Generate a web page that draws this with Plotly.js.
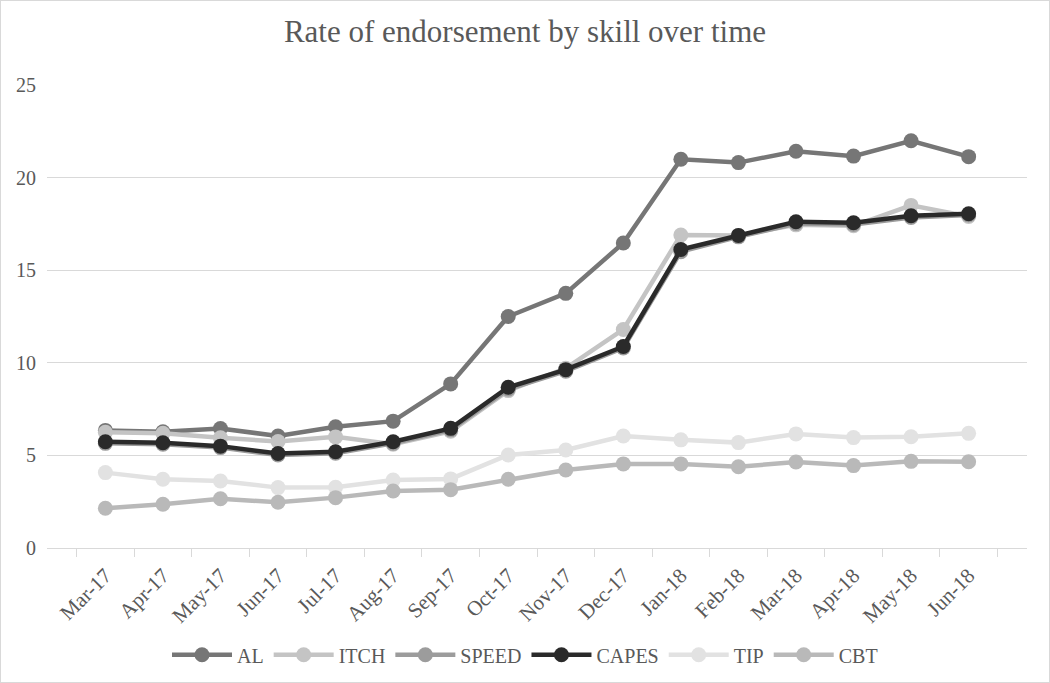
<!DOCTYPE html>
<html>
<head>
<meta charset="utf-8">
<script src="https://cdn.plot.ly/plotly-3.0.1.min.js"></script>
<style>
  body { margin: 0; background: #fff; }
  #plot { width: 1048px; height: 681px; border: 1px solid #d9d9d9; }
</style>
</head>
<body>
<div id="plot"></div>
<script>
/* Months on the x axis */
var months = ["Mar-17", "Apr-17", "May-17", "Jun-17", "Jul-17", "Aug-17", "Sep-17", "Oct-17",
              "Nov-17", "Dec-17", "Jan-18", "Feb-18", "Mar-18", "Apr-18", "May-18", "Jun-18"];

/* Endorsement rate per skill */
var alValues    = [6.35, 6.28, 6.45, 6.05, 6.55, 6.85, 8.86, 12.5, 13.75, 16.47, 20.99, 20.81, 21.42, 21.16, 21.99, 21.13];
var itchValues  = [6.25, 6.19, 5.95, 5.75, 6.0, 5.6, 6.3, 8.5, 9.7, 11.8, 16.9, 16.88, 17.45, 17.4, 18.5, 17.9];
var speedValues = [5.65, 5.6, 5.42, 5.02, 5.12, 5.65, 6.38, 8.58, 9.55, 10.8, 16.0, 16.8, 17.52, 17.47, 17.85, 17.98];
var capesValues = [5.74, 5.68, 5.5, 5.1, 5.2, 5.74, 6.46, 8.68, 9.63, 10.88, 16.12, 16.88, 17.62, 17.56, 17.94, 18.05];
var tipValues   = [4.07, 3.71, 3.62, 3.26, 3.28, 3.67, 3.73, 5.02, 5.29, 6.05, 5.84, 5.69, 6.16, 5.96, 6.01, 6.19];
var cbtValues   = [2.15, 2.36, 2.66, 2.47, 2.72, 3.08, 3.15, 3.71, 4.21, 4.54, 4.54, 4.39, 4.64, 4.45, 4.68, 4.66];

var names  = ["AL", "ITCH", "SPEED", "CAPES", "TIP", "CBT"];
var colors = ["#767676", "#c4c4c4", "#9c9c9c", "#2a2a2a", "#e2e2e2", "#b9b9b9"];
var series = [alValues, itchValues, speedValues, capesValues, tipValues, cbtValues];

var data = [];
for (var i = 0; i < names.length; i++) {
  data.push({
    x: months,
    y: series[i],
    name: names[i],
    type: "scatter",
    mode: "lines+markers",
    line: { color: colors[i], width: 4.5 },
    marker: { color: colors[i], size: 15 }
  });
}

var serif = "Liberation Serif, Times New Roman, serif";
var textColor = "#595959";

var layout = {
  width: 1048,
  height: 681,
  margin: { l: 46, r: 22, t: 84, b: 134 },
  paper_bgcolor: "#ffffff",
  plot_bgcolor: "#ffffff",
  font: { family: serif, color: textColor, size: 20 },
  title: {
    text: "Rate of endorsement by skill over time",
    font: { family: serif, color: textColor, size: 31 },
    x: 0.5, xanchor: "center", y: 0.955, yanchor: "middle"
  },
  xaxis: {
    type: "category",
    tickangle: -45,
    tickson: "boundaries",
    ticks: "outside",
    ticklen: 8,
    tickcolor: "#d9d9d9",
    ticklabelstandoff: 6,
    showgrid: false,
    showline: true,
    linecolor: "#d9d9d9",
    linewidth: 1,
    automargin: false,
    tickfont: { size: 21, color: textColor }
  },
  yaxis: {
    range: [0, 25],
    dtick: 5,
    showgrid: true,
    gridcolor: "#d9d9d9",
    zeroline: false,
    showline: false,
    ticks: "",
    ticklabelstandoff: 10,
    automargin: false,
    tickfont: { size: 20, color: textColor }
  },
  showlegend: true,
  legend: {
    orientation: "h",
    xref: "container", yref: "container",
    x: 0.5, xanchor: "center",
    y: 0.04, yanchor: "middle",
    font: { size: 20, color: textColor },
    itemwidth: 60
  }
};

Plotly.newPlot("plot", data, layout, { displayModeBar: false });
</script>
</body>
</html>
